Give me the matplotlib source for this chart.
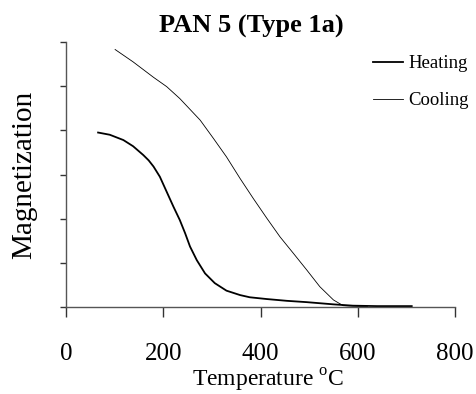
import matplotlib
matplotlib.use('Agg')
import matplotlib.pyplot as plt

plt.rcParams['font.family'] = ['Liberation Serif', 'DejaVu Serif']
plt.rcParams['mathtext.fontset'] = 'custom'
plt.rcParams['mathtext.rm'] = 'Liberation Serif'

# values (temperature in C, magnetization in tick units)
heat_t = [66, 90, 118, 138, 159, 170, 180, 193, 207, 221, 234, 245, 255, 269,
          286, 306, 330, 358, 378, 413, 454, 495, 550, 590, 640, 711]
heat_m = [3.95, 3.90, 3.78, 3.64, 3.44, 3.32, 3.18, 2.95, 2.61, 2.27, 1.97,
          1.67, 1.37, 1.06, 0.76, 0.54, 0.37, 0.27, 0.22, 0.18, 0.14, 0.11,
          0.06, 0.03, 0.02, 0.02]

cool_t = [101, 138, 180, 207, 234, 276, 303, 330, 358, 385, 413, 440, 468,
          495, 522, 550, 570, 600, 620]
cool_m = [5.83, 5.55, 5.20, 4.99, 4.72, 4.23, 3.82, 3.40, 2.91, 2.46, 2.01,
          1.59, 1.21, 0.84, 0.46, 0.16, 0.03, 0.015, 0.01]

xticks = [0, 200, 400, 600, 800]
yticks = [0, 1, 2, 3, 4, 5, 6]

fig = plt.figure(figsize=(4.76, 3.94), dpi=100)
ax = fig.add_axes([66 / 476, 1 - 307 / 394, 389 / 476, 265 / 394])

ax.plot(heat_t, heat_m, color='black', lw=1.3, label='Heating')
ax.plot(cool_t, cool_m, color='black', lw=0.6, label='Cooling')

ax.set_xlim(0, 800)
ax.set_ylim(0, 6)
ax.set_xticks(xticks)
ax.set_yticks(yticks)
ax.set_yticklabels([])
ax.spines['top'].set_visible(False)
ax.spines['right'].set_visible(False)
for s in ('left', 'bottom'):
    ax.spines[s].set_color('#555555')
    ax.spines[s].set_linewidth(1.0)
ax.tick_params(axis='x', direction='out', length=7, width=1, color='#333333',
               pad=19, labelsize=18)
ax.tick_params(axis='y', direction='out', length=4.5, width=1, color='#333333')

ax.set_xlabel('Temperature $^{\\rm o}$C', fontsize=17, labelpad=1, x=0.52)
ax.set_ylabel('Magnetization', fontsize=21, labelpad=13)
ax.set_title('PAN 5 (Type 1a)', fontsize=19, fontweight='bold', pad=7,
             x=0.476)

ax.legend(loc='upper left', bbox_to_anchor=(0.79, 0.95), frameon=False,
          fontsize=13.5, handlelength=1.6, handletextpad=0.25,
          labelspacing=1.05, borderaxespad=0, borderpad=0)

fig.savefig('out.png', dpi=100)
